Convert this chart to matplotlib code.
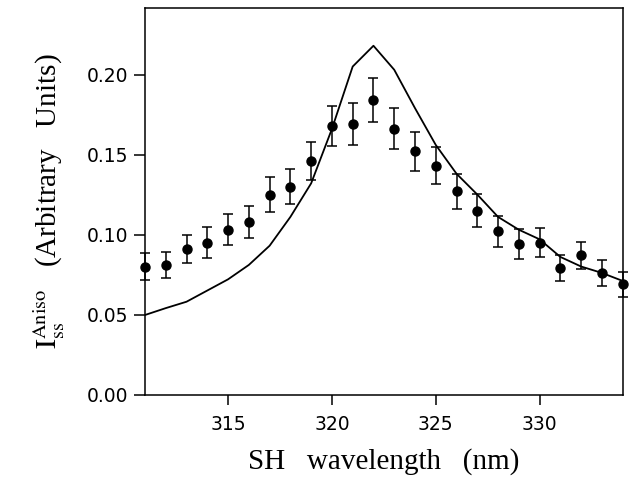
import numpy as np
import matplotlib
matplotlib.use("Agg")
import matplotlib.pyplot as plt

# measured points
wl = np.arange(311, 335)
i_meas = [0.080, 0.081, 0.091, 0.095, 0.103, 0.108, 0.125, 0.130, 0.146, 0.168, 0.169, 0.184,
          0.166, 0.152, 0.143, 0.127, 0.115, 0.102, 0.094, 0.095, 0.079, 0.087, 0.076, 0.069]
i_err = [0.0083, 0.0081, 0.0090, 0.0094, 0.0098, 0.0099, 0.0108, 0.0110, 0.0117, 0.0125, 0.0130, 0.0138,
         0.0128, 0.0122, 0.0117, 0.0110, 0.0104, 0.0096, 0.0092, 0.0093, 0.0081, 0.0086, 0.0079, 0.0078]

# calculated curve
i_calc = [0.0497, 0.054, 0.058, 0.065, 0.072, 0.081, 0.093, 0.111, 0.132, 0.166, 0.205, 0.218,
          0.203, 0.179, 0.156, 0.138, 0.125, 0.111, 0.103, 0.097, 0.086, 0.080, 0.076, 0.071]

plt.rcParams['mathtext.fontset'] = 'stix'
serif = 'Liberation Serif'
sans = 'DejaVu Sans'

fig = plt.figure(figsize=(6.31, 4.79), dpi=100)
ax = fig.add_axes([0.2298, 0.1764, 0.7570, 0.8069])

ax.plot(wl, i_calc, color='black', lw=1.3)
ax.errorbar(wl, i_meas, yerr=i_err, fmt='o', color='black', ms=6.5,
            elinewidth=1.1, capsize=3.5, capthick=1.1, clip_on=False, zorder=3)

ax.set_xlim(311, 334)
ax.set_ylim(0, 0.2416)
ax.set_xticks([315, 320, 325, 330])
ax.set_yticks([0.00, 0.05, 0.10, 0.15, 0.20])
ax.set_yticklabels(['0.00', '0.05', '0.10', '0.15', '0.20'])
ax.tick_params(direction='out', length=8, width=1.1, labelsize=13.5)
ax.tick_params(axis='x', pad=8, length=7)
ax.tick_params(axis='y', pad=4)
for lab in ax.get_xticklabels() + ax.get_yticklabels():
    lab.set_family(sans)
for s in ax.spines.values():
    s.set_linewidth(1.1)

ax.set_xlabel('SH   wavelength   (nm)', family=serif, fontsize=21, labelpad=10)
ax.set_ylabel(r'$\mathrm{I}_{\mathrm{ss}}^{\mathrm{Aniso}}$   (Arbitrary   Units)',
              family=serif, fontsize=21, labelpad=14)

fig.savefig('out.png', dpi=100)
